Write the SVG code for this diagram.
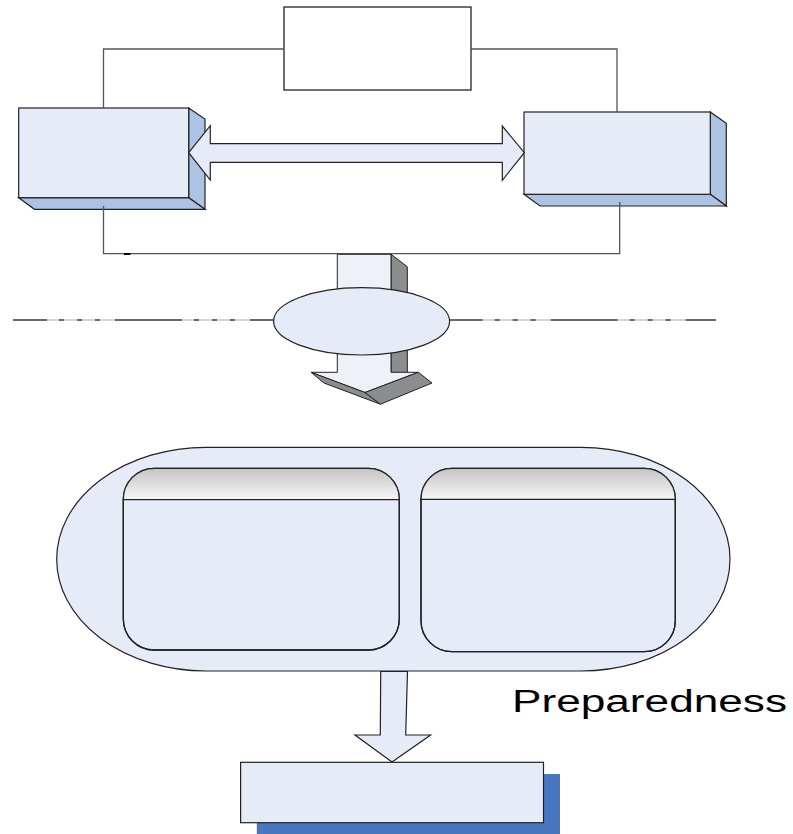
<svg xmlns="http://www.w3.org/2000/svg" width="793" height="834" viewBox="0 0 793 834">
<defs>
<linearGradient id="hdr" x1="0" y1="0" x2="0" y2="1">
<stop offset="0" stop-color="#c4c4c4"/>
<stop offset="1" stop-color="#f6f6f6"/>
</linearGradient>
<style>
.front{fill:#e6ecf7;stroke:#222;stroke-width:1.2}
.side{fill:#adc3e4;stroke:#222;stroke-width:1.2}
.conn{fill:none;stroke:#555;stroke-width:1.3}
.dk{fill:#8b8d90;stroke:#222;stroke-width:1}
.lt{fill:#eef1f7;stroke:#222;stroke-width:1}
.dashL{stroke:#d6d6d6;stroke-width:2}
.dashD{stroke:#6a6a6a;stroke-width:2;stroke-dasharray:67 12 5 13 5 13 5 15}
.lbl{font-family:"Liberation Sans",Arial,sans-serif;font-size:31px;fill:#000}
</style>
</defs>
<rect width="793" height="834" fill="#fff"/>

<g id="top-box">
<rect x="284" y="7" width="187" height="83" fill="#fff" stroke="#222" stroke-width="1.3"/>
</g>

<g id="left-box">
<polygon class="side" points="188.7,108 205,119 205,209.3 188.7,197.7"/>
<polygon class="side" points="18.7,197.7 34.5,209.3 205,209.3 188.7,197.7"/>
<rect class="front" x="18.7" y="108" width="170" height="89.7"/>
</g>

<g id="right-box">
<polygon class="side" points="710.3,112 726.3,123.3 726.3,206 710.3,194.3"/>
<polygon class="side" points="524,194.3 540,206 726.3,206 710.3,194.3"/>
<rect class="front" x="524" y="112" width="186.3" height="82.3"/>
</g>

<g id="connectors">
<path class="conn" d="M103.5,108 V49 H284"/>
<path class="conn" d="M471,49 H617 V112"/>
<path class="conn" d="M103.5,206 V253.7 H619.7 V202"/>
<line x1="124" y1="254" x2="130.5" y2="254" stroke="#000" stroke-width="2"/>
<polygon class="front" points="188.7,152.7 210.3,125.7 210.3,143.7 502.3,143.7 502.3,126 524.3,152.7 502.3,180.3 502.3,162.3 210.3,162.3 210.3,180"/>
<polygon class="front" stroke="#333" points="380.7,671.5 407.5,671.5 405.7,735 430.6,735 392,762 355,735 380.3,735"/>
</g>

<g id="divider">
<line class="dashL" x1="13" y1="320" x2="275" y2="320"/>
<line class="dashD" x1="13" y1="320" x2="275" y2="320" stroke-dashoffset="33"/>
<line class="dashL" x1="449" y1="320" x2="716" y2="320"/>
<line class="dashD" x1="449" y1="320" x2="716" y2="320" stroke-dashoffset="33.3"/>
</g>

<g id="block-arrow">
<polygon class="dk" points="391,254.3 407.3,266.7 407.3,380 391,372.3"/>
<polygon class="lt" points="337.3,254.3 391,254.3 391,372.3 418.3,372.3 365,392.5 311,372.3 337.3,372.3"/>
<polygon class="dk" points="311,372.3 324,383 380.4,404.2 365,392.5"/>
<polygon class="dk" points="365,392.5 380.4,404.2 432,383 418.3,372.3"/>
</g>

<g id="ellipse">
<ellipse cx="361.6" cy="321.3" rx="88" ry="33.7" fill="#e6ecf7" stroke="#222" stroke-width="1.2"/>
</g>

<g id="container">
<path d="M206,447.3 H581 A149 111.8 0 0 1 581,671 H206 A149.3 111.8 0 0 1 206,447.3 Z" fill="#e6ecf7" stroke="#222" stroke-width="1.2"/>
</g>

<g id="panel-left">
<rect x="123.3" y="468.3" width="276" height="181.7" rx="31" ry="31" fill="#e6ecf7" stroke="#222" stroke-width="1.3"/>
<path d="M123.3,499.7 V499.3 A31 31 0 0 1 154.3,468.3 H368.3 A31 31 0 0 1 399.3,499.3 V499.7 Z" fill="url(#hdr)" stroke="none"/>
<rect x="123.3" y="468.3" width="276" height="181.7" rx="31" ry="31" fill="none" stroke="#222" stroke-width="1.3"/>
<line x1="123.3" y1="499.7" x2="399.3" y2="499.7" stroke="#222" stroke-width="1.3"/>
</g>

<g id="panel-right">
<rect x="421" y="468.3" width="254.3" height="183.4" rx="31" ry="31" fill="#e6ecf7" stroke="#222" stroke-width="1.3"/>
<path d="M421,499.3 A31 31 0 0 1 452,468.3 H644.3 A31 31 0 0 1 675.3,499.3 Z" fill="url(#hdr)" stroke="none"/>
<rect x="421" y="468.3" width="254.3" height="183.4" rx="31" ry="31" fill="none" stroke="#222" stroke-width="1.3"/>
<line x1="421" y1="499.3" x2="675.3" y2="499.3" stroke="#222" stroke-width="1.3"/>
</g>

<g id="label">
<text class="lbl" x="512" y="712.3" textLength="275" lengthAdjust="spacingAndGlyphs">Preparedness</text>
</g>

<g id="bottom-box">
<rect x="256.8" y="774" width="303.2" height="62" fill="#4677bf"/>
<rect x="240.6" y="762.3" width="302.9" height="60.4" fill="#e6ecf7" stroke="#222" stroke-width="1.2"/>
</g>
</svg>
